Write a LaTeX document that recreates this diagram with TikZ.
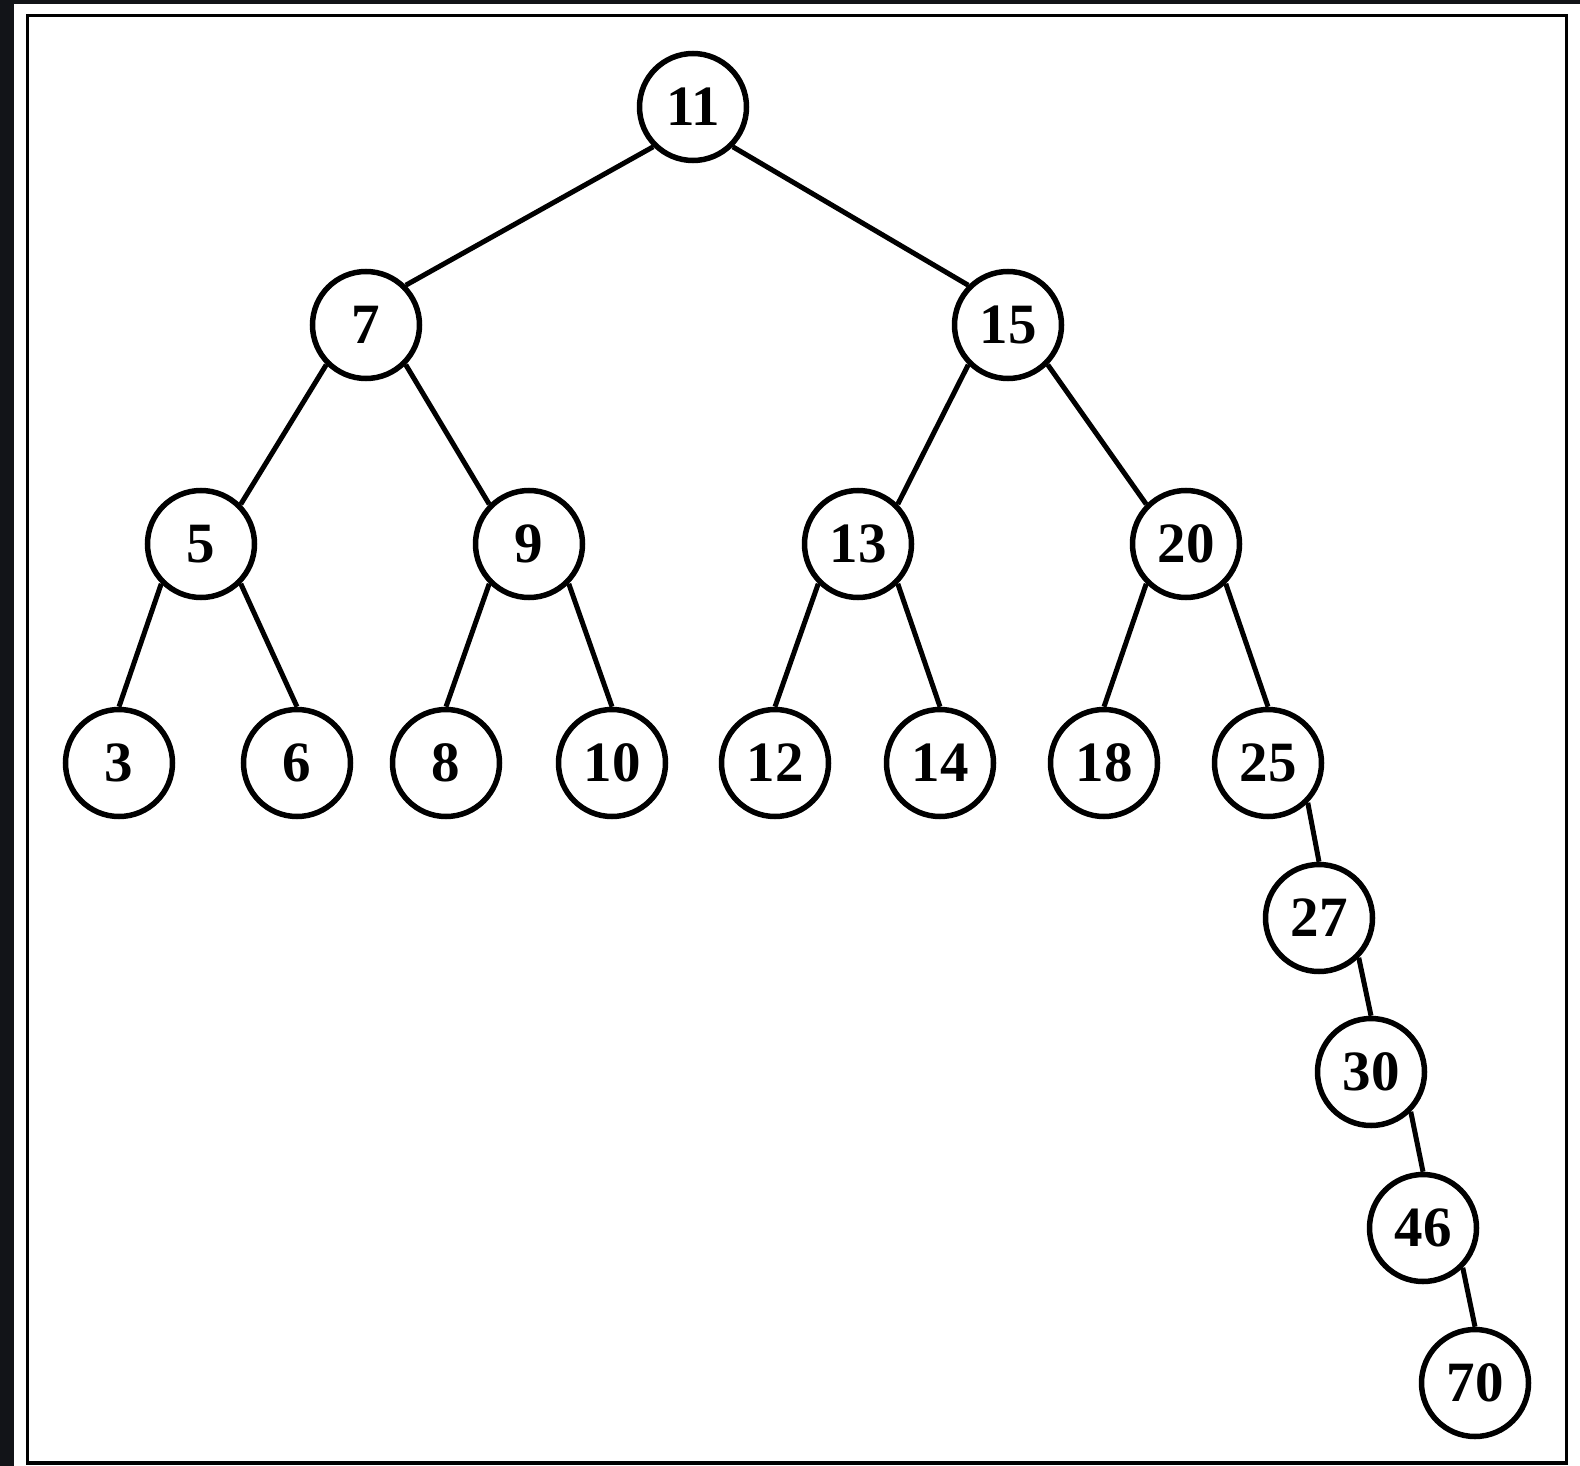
\documentclass[tikz,border=0pt]{standalone}
\usepackage{fontspec}
\setmainfont{Liberation Serif}
\definecolor{darkbg}{HTML}{121418}
\begin{document}
\begin{tikzpicture}[x=1pt,y=-1pt,
  tnode/.style={circle,draw=black,line width=5.5pt,fill=white,minimum size=107pt,inner sep=0pt,
    font=\fontsize{57}{60}\selectfont\bfseries},
  tedge/.style={line width=5pt,black}]
\useasboundingbox (0,0) rectangle (1580,1466);
\fill[white] (0,0) rectangle (1580,1466);
\fill[darkbg] (0,0) rectangle (14,1466);
\fill[darkbg] (0,0) rectangle (1580,4);
\draw[line width=3.5pt] (27.5,15.5) rectangle (1566.5,1463);
\node[tnode] (n11) at (693,107) {11};
\node[tnode] (n7) at (366,325) {7};
\node[tnode] (n15) at (1008,325) {15};
\node[tnode] (n5) at (201,544) {5};
\node[tnode] (n9) at (529,544) {9};
\node[tnode] (n13) at (858,544) {13};
\node[tnode] (n20) at (1186,544) {20};
\node[tnode] (n3) at (119,763) {3};
\node[tnode] (n6) at (297,763) {6};
\node[tnode] (n8) at (446,763) {8};
\node[tnode] (n10) at (612,763) {10};
\node[tnode] (n12) at (775,763) {12};
\node[tnode] (n14) at (940,763) {14};
\node[tnode] (n18) at (1104,763) {18};
\node[tnode] (n25) at (1268,763) {25};
\node[tnode] (n27) at (1319,918) {27};
\node[tnode] (n30) at (1371,1072) {30};
\node[tnode] (n46) at (1423,1228) {46};
\node[tnode] (n70) at (1475,1383) {70};
\draw[tedge] (n11.south west) -- (n7.north east);
\draw[tedge] (n11.south east) -- (n15.north west);
\draw[tedge] (n7.south west) -- (n5.north east);
\draw[tedge] (n7.south east) -- (n9.north west);
\draw[tedge] (n15.south west) -- (n13.north east);
\draw[tedge] (n15.south east) -- (n20.north west);
\draw[tedge] (n5.south west) -- (n3.north);
\draw[tedge] (n5.south east) -- (n6.north);
\draw[tedge] (n9.south west) -- (n8.north);
\draw[tedge] (n9.south east) -- (n10.north);
\draw[tedge] (n13.south west) -- (n12.north);
\draw[tedge] (n13.south east) -- (n14.north);
\draw[tedge] (n20.south west) -- (n18.north);
\draw[tedge] (n20.south east) -- (n25.north);
\draw[tedge] (n25.south east) -- (n27.north);
\draw[tedge] (n27.south east) -- (n30.north);
\draw[tedge] (n30.south east) -- (n46.north);
\draw[tedge] (n46.south east) -- (n70.north);
\end{tikzpicture}
\end{document}
